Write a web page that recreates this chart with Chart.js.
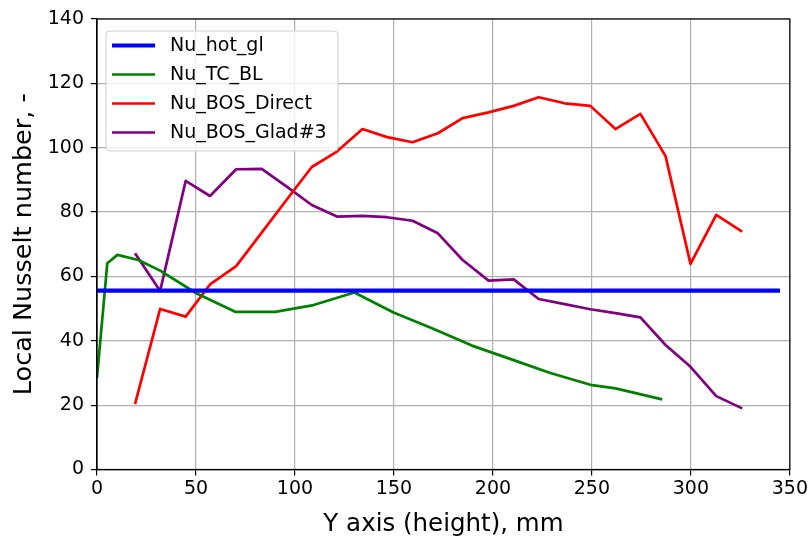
<!DOCTYPE html>
<html>
<head>
<meta charset="utf-8">
<script src="https://cdn.jsdelivr.net/npm/chart.js@4/dist/chart.umd.min.js"></script>
<style>
  html, body { margin: 0; padding: 0; background: #fff; }
  #c { display: block; }
</style>
</head>
<body>
<canvas id="c" width="810" height="536"></canvas>
<script>
// ---- data ----
const seriesNames = ['Nu_hot_gl', 'Nu_TC_BL', 'Nu_BOS_Direct', 'Nu_BOS_Glad#3'];

const hotX = [0, 345];
const hotY = [55.6, 55.6];

const tcX = [0, 5.2, 10.3, 20.9, 31.9, 50.4, 69.8, 90, 109.4, 130, 149.8, 169.2, 189.4, 209, 229, 250.1, 261.9, 285.5];
const tcY = [28.5, 64.1, 66.7, 65.1, 61.8, 54.7, 49.0, 49.0, 51.1, 55.0, 48.8, 43.9, 38.5, 34.3, 30.0, 26.2, 25.2, 21.8];

const bosX = [19.2, 31.9, 44.8, 57.1, 70.3, 83.2, 96, 108.5, 121.2, 134.1, 146.5, 159.4, 172.2, 184.7, 197.8, 210.5, 223.1, 236.2, 249.2, 261.9, 274.5, 287.2, 299.8, 312.8, 325.9];
const directY = [20.3, 49.9, 47.5, 57.5, 63.2, 73.6, 84.0, 94.0, 98.8, 105.8, 103.3, 101.7, 104.5, 109.2, 111.0, 113.0, 115.7, 113.8, 113.0, 105.8, 110.5, 97.4, 63.9, 79.1, 73.9];
const gladY = [67.2, 55.5, 89.7, 85.0, 93.3, 93.4, 87.8, 82.2, 78.6, 78.8, 78.4, 77.3, 73.4, 65.1, 58.7, 59.1, 53.0, 51.4, 49.8, 48.6, 47.3, 38.7, 31.9, 22.8, 19.0];

const xTicks = [0, 50, 100, 150, 200, 250, 300, 350];
const yTicks = [0, 20, 40, 60, 80, 100, 120, 140];

const xTitle = 'Y axis (height), mm';
const yTitle = 'Local Nusselt number, -';

function pts(xs, ys) { return xs.map((x, i) => ({ x: x, y: ys[i] })); }

const FONT = "'DejaVu Sans', 'Liberation Sans', sans-serif";

const datasets = [
  { label: seriesNames[0], data: pts(hotX, hotY), borderColor: '#0000ff', borderWidth: 4.2 },
  { label: seriesNames[1], data: pts(tcX, tcY), borderColor: '#008000', borderWidth: 2.7 },
  { label: seriesNames[2], data: pts(bosX, directY), borderColor: '#ff0000', borderWidth: 2.7 },
  { label: seriesNames[3], data: pts(bosX, gladY), borderColor: '#800080', borderWidth: 2.7 }
];

const framePlugin = {
  id: 'frameLegend',
  afterDatasetsDraw(chart) {
    const ctx = chart.ctx;
    const a = chart.chartArea;
    ctx.save();
    // frame (spines)
    ctx.strokeStyle = '#000';
    ctx.lineWidth = 1.2;
    ctx.strokeRect(a.left, a.top, a.right - a.left, a.bottom - a.top);

    // legend box
    const bx = 106, by = 31, bw = 232, bh = 120, r = 4;
    ctx.beginPath();
    ctx.moveTo(bx + r, by);
    ctx.lineTo(bx + bw - r, by);
    ctx.quadraticCurveTo(bx + bw, by, bx + bw, by + r);
    ctx.lineTo(bx + bw, by + bh - r);
    ctx.quadraticCurveTo(bx + bw, by + bh, bx + bw - r, by + bh);
    ctx.lineTo(bx + r, by + bh);
    ctx.quadraticCurveTo(bx, by + bh, bx, by + bh - r);
    ctx.lineTo(bx, by + r);
    ctx.quadraticCurveTo(bx, by, bx + r, by);
    ctx.closePath();
    ctx.fillStyle = 'rgba(255,255,255,0.8)';
    ctx.fill();
    ctx.strokeStyle = '#d0d0d0';
    ctx.lineWidth = 1;
    ctx.stroke();

    ctx.font = '19px ' + FONT;
    ctx.textBaseline = 'middle';
    ctx.textAlign = 'left';
    chart.data.datasets.forEach((ds, i) => {
      const yy = 45.5 + i * 29;
      ctx.beginPath();
      ctx.moveTo(112, yy);
      ctx.lineTo(155, yy);
      ctx.strokeStyle = ds.borderColor;
      ctx.lineWidth = ds.borderWidth;
      ctx.stroke();
      ctx.fillStyle = '#000';
      ctx.fillText(ds.label, 170, yy + 1);
    });
    ctx.restore();
  }
};

new Chart(document.getElementById('c'), {
  type: 'line',
  data: { datasets: datasets },
  options: {
    responsive: false,
    animation: false,
    devicePixelRatio: 1,
    layout: { padding: { left: 0, right: 20, top: 19, bottom: 0 } },
    elements: { point: { radius: 0 }, line: { tension: 0, borderCapStyle: 'butt', borderJoinStyle: 'round' } },
    plugins: { legend: { display: false }, tooltip: { enabled: false } },
    scales: {
      x: {
        type: 'linear', min: 0, max: 350,
        afterBuildTicks(s) { s.ticks = xTicks.map(v => ({ value: v })); },
        afterFit(s) { s.height = 66.5; },
        ticks: { color: '#000', font: { family: FONT, size: 19 }, padding: 2, maxRotation: 0, autoSkip: false },
        grid: { color: '#b0b0b0', lineWidth: 1.2, tickColor: '#000', tickLength: 6, tickWidth: 1.2 },
        border: { color: '#000', width: 1.2 },
        title: { display: true, text: xTitle, color: '#000', font: { family: FONT, size: 24.5 }, padding: { top: 0, bottom: -3 } }
      },
      y: {
        type: 'linear', min: 0, max: 140,
        afterBuildTicks(s) { s.ticks = yTicks.map(v => ({ value: v })); },
        afterFit(s) { s.width = 97; },
        ticks: { color: '#000', font: { family: FONT, size: 19 }, padding: 7, autoSkip: false },
        grid: { color: '#b0b0b0', lineWidth: 1.2, tickColor: '#000', tickLength: 6, tickWidth: 1.2 },
        border: { color: '#000', width: 1.2 },
        title: { display: true, text: yTitle, color: '#000', font: { family: FONT, size: 25.5 }, padding: { top: 9, bottom: 0 } }
      }
    }
  },
  plugins: [framePlugin]
});
</script>
</body>
</html>
